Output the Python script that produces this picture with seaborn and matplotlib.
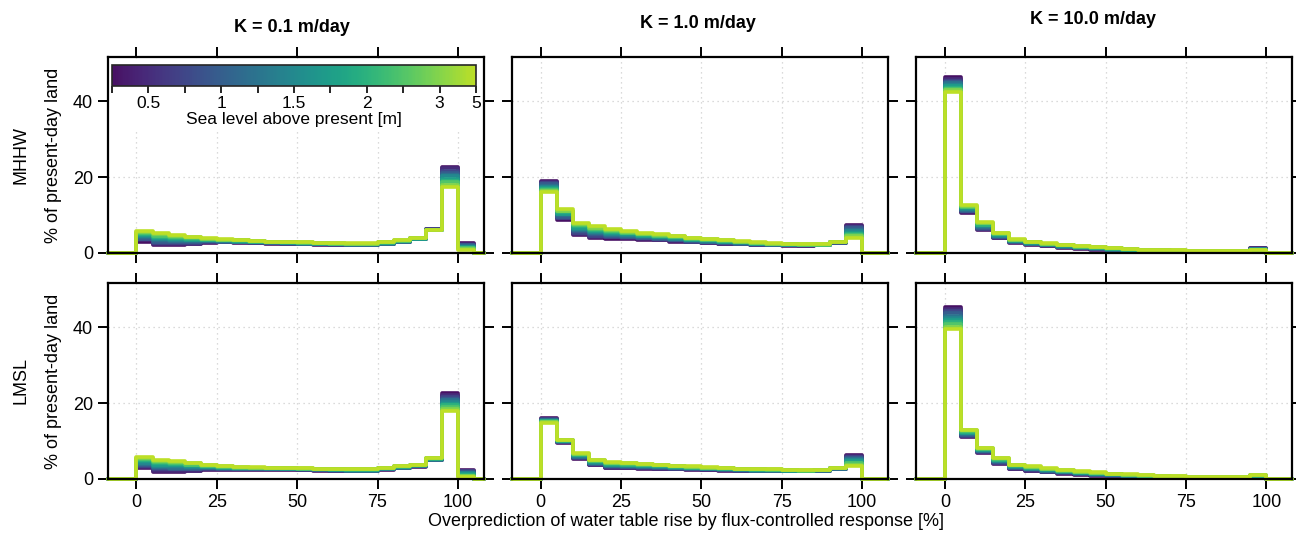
import matplotlib

matplotlib.use("Agg")
import matplotlib.pyplot as plt
import numpy as np
import pandas as pd
import seaborn as sns
from matplotlib.colors import ListedColormap, Normalize
from matplotlib.patches import Rectangle

sns.set_style("ticks")
plt.rcParams["font.family"] = ["Liberation Sans", "DejaVu Sans"]
plt.rcParams["text.color"] = "black"
plt.rcParams["axes.labelcolor"] = "black"
plt.rcParams["xtick.color"] = "black"
plt.rcParams["ytick.color"] = "black"

# sea level scenarios (colour index 0..10)
SEA_LEVELS = [0.25, 0.5, 0.75, 1.0, 1.25, 1.5, 1.75, 2.0, 2.5, 3.0, 5.0]
CBAR_LABELS = ["", "0.5", "", "1", "", "1.5", "", "2", "", "3", "5"]
BIN_EDGES = [0, 5, 10, 15, 20, 25, 30, 35, 40, 45, 50, 55, 60, 65, 70, 75, 80, 85, 90, 95, 100, 105]
DATUMS = ["MHHW", "LMSL"]
K_TITLES = ["K = 0.1 m/day", "K = 1.0 m/day", "K = 10.0 m/day"]

# % of present-day land per bin; each inner list = one bin, values for the 11 sea levels
MHHW_K01 = [
    [3.0, 3.3, 3.6, 3.8, 4.1, 4.4, 4.7, 5.0, 5.2, 5.5, 5.8],
    [2.0, 2.3, 2.7, 3.0, 3.3, 3.7, 4.0, 4.3, 4.6, 5.0, 5.3],
    [2.0, 2.3, 2.6, 2.8, 3.1, 3.4, 3.7, 4.0, 4.2, 4.5, 4.8],
    [2.3, 2.5, 2.7, 2.9, 3.1, 3.3, 3.5, 3.7, 3.9, 4.1, 4.3],
    [2.7, 2.8, 2.9, 3.1, 3.2, 3.3, 3.4, 3.5, 3.7, 3.8, 3.9],
    [2.8, 2.9, 3.0, 3.0, 3.1, 3.2, 3.3, 3.4, 3.4, 3.5, 3.6],
    [2.7, 2.8, 2.8, 2.9, 3.0, 3.0, 3.1, 3.2, 3.3, 3.3, 3.4],
    [2.6, 2.7, 2.7, 2.8, 2.8, 2.9, 3.0, 3.0, 3.1, 3.1, 3.2],
    [2.5, 2.6, 2.6, 2.7, 2.7, 2.8, 2.8, 2.9, 2.9, 3.0, 3.0],
    [2.4, 2.5, 2.5, 2.6, 2.6, 2.7, 2.7, 2.8, 2.8, 2.9, 2.9],
    [2.3, 2.4, 2.4, 2.5, 2.5, 2.6, 2.6, 2.7, 2.7, 2.8, 2.8],
    [2.2, 2.3, 2.3, 2.4, 2.4, 2.5, 2.5, 2.6, 2.6, 2.7, 2.7],
    [2.1, 2.2, 2.2, 2.3, 2.3, 2.4, 2.4, 2.5, 2.5, 2.6, 2.6],
    [2.0, 2.1, 2.1, 2.2, 2.2, 2.3, 2.4, 2.4, 2.5, 2.5, 2.6],
    [2.0, 2.1, 2.1, 2.2, 2.2, 2.3, 2.4, 2.4, 2.5, 2.5, 2.6],
    [2.3, 2.4, 2.4, 2.5, 2.5, 2.6, 2.7, 2.7, 2.8, 2.8, 2.9],
    [2.8, 2.9, 2.9, 3.0, 3.0, 3.1, 3.1, 3.2, 3.2, 3.3, 3.3],
    [3.6, 3.6, 3.7, 3.7, 3.8, 3.8, 3.8, 3.9, 3.9, 4.0, 4.0],
    [6.2, 6.2, 6.2, 6.1, 6.1, 6.1, 6.1, 6.1, 6.0, 6.0, 6.0],
    [22.8, 22.3, 21.7, 21.2, 20.7, 20.2, 19.6, 19.1, 18.6, 18.0, 17.5],
    [2.6, 2.4, 2.2, 2.1, 1.9, 1.7, 1.5, 1.3, 1.2, 1.0, 0.8],
]
MHHW_K1 = [
    [19.0, 18.7, 18.4, 18.1, 17.8, 17.5, 17.2, 16.9, 16.6, 16.3, 16.0],
    [8.8, 9.1, 9.3, 9.6, 9.9, 10.2, 10.4, 10.7, 11.0, 11.2, 11.5],
    [4.8, 5.1, 5.4, 5.8, 6.1, 6.4, 6.7, 7.0, 7.4, 7.7, 8.0],
    [4.0, 4.3, 4.6, 4.9, 5.2, 5.5, 5.8, 6.1, 6.4, 6.7, 7.0],
    [3.8, 4.1, 4.3, 4.6, 4.8, 5.1, 5.4, 5.6, 5.9, 6.1, 6.4],
    [3.7, 3.9, 4.1, 4.3, 4.5, 4.8, 5.0, 5.2, 5.4, 5.6, 5.8],
    [3.5, 3.7, 3.9, 4.0, 4.2, 4.4, 4.6, 4.8, 4.9, 5.1, 5.3],
    [3.3, 3.5, 3.6, 3.8, 3.9, 4.1, 4.3, 4.4, 4.6, 4.7, 4.9],
    [3.0, 3.2, 3.3, 3.5, 3.6, 3.8, 3.9, 4.1, 4.2, 4.4, 4.5],
    [2.8, 2.9, 3.0, 3.2, 3.3, 3.4, 3.5, 3.6, 3.8, 3.9, 4.0],
    [2.6, 2.7, 2.8, 2.9, 3.0, 3.2, 3.3, 3.4, 3.5, 3.6, 3.7],
    [2.4, 2.5, 2.6, 2.7, 2.8, 2.9, 3.0, 3.1, 3.2, 3.3, 3.4],
    [2.3, 2.4, 2.5, 2.5, 2.6, 2.7, 2.8, 2.9, 2.9, 3.0, 3.1],
    [2.1, 2.2, 2.2, 2.3, 2.4, 2.5, 2.5, 2.6, 2.7, 2.7, 2.8],
    [2.0, 2.1, 2.1, 2.2, 2.2, 2.3, 2.4, 2.4, 2.5, 2.5, 2.6],
    [1.9, 2.0, 2.0, 2.1, 2.1, 2.2, 2.2, 2.3, 2.3, 2.4, 2.4],
    [1.9, 1.9, 2.0, 2.0, 2.1, 2.1, 2.1, 2.2, 2.2, 2.3, 2.3],
    [2.0, 2.0, 2.1, 2.1, 2.1, 2.2, 2.2, 2.2, 2.2, 2.3, 2.3],
    [2.6, 2.6, 2.7, 2.7, 2.8, 2.8, 2.8, 2.9, 2.9, 3.0, 3.0],
    [7.5, 7.2, 6.8, 6.5, 6.1, 5.8, 5.4, 5.1, 4.7, 4.4, 4.0],
    [0.0, 0.0, 0.0, 0.0, 0.0, 0.0, 0.0, 0.0, 0.0, 0.0, 0.0],
]
MHHW_K10 = [
    [46.3, 45.9, 45.5, 45.2, 44.8, 44.4, 44.0, 43.6, 43.3, 42.9, 42.5],
    [10.6, 10.8, 11.0, 11.2, 11.4, 11.6, 11.8, 12.0, 12.2, 12.4, 12.6],
    [6.0, 6.2, 6.4, 6.7, 6.9, 7.1, 7.3, 7.5, 7.8, 8.0, 8.2],
    [3.9, 4.0, 4.2, 4.3, 4.5, 4.6, 4.7, 4.9, 5.0, 5.2, 5.3],
    [2.7, 2.8, 2.9, 3.0, 3.1, 3.2, 3.2, 3.3, 3.4, 3.5, 3.6],
    [2.2, 2.3, 2.4, 2.4, 2.5, 2.6, 2.7, 2.8, 2.8, 2.9, 3.0],
    [1.8, 1.9, 2.0, 2.0, 2.1, 2.2, 2.3, 2.4, 2.4, 2.5, 2.6],
    [1.4, 1.5, 1.6, 1.6, 1.7, 1.8, 1.9, 2.0, 2.0, 2.1, 2.2],
    [1.1, 1.2, 1.3, 1.3, 1.4, 1.5, 1.6, 1.7, 1.7, 1.8, 1.9],
    [0.9, 1.0, 1.0, 1.1, 1.2, 1.3, 1.3, 1.4, 1.5, 1.5, 1.6],
    [0.7, 0.8, 0.8, 0.9, 0.9, 1.0, 1.1, 1.1, 1.2, 1.2, 1.3],
    [0.6, 0.7, 0.7, 0.8, 0.8, 0.9, 0.9, 0.9, 1.0, 1.0, 1.1],
    [0.5, 0.5, 0.6, 0.6, 0.7, 0.7, 0.7, 0.8, 0.8, 0.9, 0.9],
    [0.4, 0.4, 0.5, 0.5, 0.6, 0.6, 0.6, 0.7, 0.7, 0.8, 0.8],
    [0.4, 0.4, 0.5, 0.5, 0.5, 0.6, 0.6, 0.6, 0.6, 0.7, 0.7],
    [0.3, 0.3, 0.4, 0.4, 0.4, 0.5, 0.5, 0.5, 0.5, 0.6, 0.6],
    [0.3, 0.3, 0.3, 0.4, 0.4, 0.4, 0.4, 0.4, 0.5, 0.5, 0.5],
    [0.3, 0.3, 0.3, 0.4, 0.4, 0.4, 0.4, 0.4, 0.5, 0.5, 0.5],
    [0.4, 0.4, 0.4, 0.5, 0.5, 0.5, 0.5, 0.5, 0.6, 0.6, 0.6],
    [1.2, 1.2, 1.1, 1.1, 1.0, 1.0, 0.9, 0.9, 0.8, 0.8, 0.7],
    [0.0, 0.0, 0.0, 0.0, 0.0, 0.0, 0.0, 0.0, 0.0, 0.0, 0.0],
]
LMSL_K01 = [
    [2.8, 3.1, 3.4, 3.7, 4.0, 4.3, 4.6, 4.9, 5.2, 5.5, 5.8],
    [1.9, 2.2, 2.5, 2.8, 3.1, 3.5, 3.8, 4.1, 4.4, 4.7, 5.0],
    [1.9, 2.2, 2.5, 2.7, 3.0, 3.3, 3.6, 3.9, 4.1, 4.4, 4.7],
    [2.0, 2.2, 2.5, 2.7, 2.9, 3.2, 3.4, 3.6, 3.8, 4.1, 4.3],
    [2.3, 2.5, 2.6, 2.8, 2.9, 3.1, 3.2, 3.4, 3.5, 3.7, 3.8],
    [2.4, 2.5, 2.6, 2.7, 2.8, 2.9, 3.0, 3.1, 3.2, 3.3, 3.4],
    [2.4, 2.5, 2.6, 2.6, 2.7, 2.8, 2.9, 3.0, 3.0, 3.1, 3.2],
    [2.4, 2.5, 2.5, 2.6, 2.7, 2.8, 2.8, 2.9, 3.0, 3.0, 3.1],
    [2.4, 2.5, 2.5, 2.6, 2.6, 2.7, 2.8, 2.8, 2.9, 2.9, 3.0],
    [2.4, 2.5, 2.5, 2.6, 2.6, 2.7, 2.7, 2.8, 2.8, 2.9, 2.9],
    [2.3, 2.4, 2.4, 2.5, 2.5, 2.6, 2.6, 2.7, 2.7, 2.8, 2.8],
    [2.2, 2.3, 2.3, 2.4, 2.4, 2.5, 2.5, 2.6, 2.6, 2.7, 2.7],
    [2.1, 2.2, 2.2, 2.3, 2.3, 2.4, 2.4, 2.5, 2.5, 2.6, 2.6],
    [2.0, 2.1, 2.1, 2.2, 2.2, 2.3, 2.4, 2.4, 2.5, 2.5, 2.6],
    [2.0, 2.1, 2.1, 2.2, 2.2, 2.3, 2.4, 2.4, 2.5, 2.5, 2.6],
    [2.4, 2.5, 2.5, 2.6, 2.6, 2.7, 2.8, 2.8, 2.9, 2.9, 3.0],
    [2.8, 2.9, 2.9, 3.0, 3.0, 3.1, 3.2, 3.2, 3.3, 3.3, 3.4],
    [3.2, 3.3, 3.3, 3.4, 3.4, 3.5, 3.6, 3.6, 3.7, 3.7, 3.8],
    [4.9, 5.0, 5.0, 5.1, 5.1, 5.2, 5.3, 5.3, 5.4, 5.4, 5.5],
    [22.6, 22.1, 21.7, 21.2, 20.8, 20.3, 19.8, 19.4, 18.9, 18.5, 18.0],
    [2.3, 2.1, 2.0, 1.8, 1.6, 1.5, 1.3, 1.1, 0.9, 0.8, 0.6],
]
LMSL_K1 = [
    [16.0, 15.9, 15.8, 15.6, 15.5, 15.4, 15.3, 15.2, 15.0, 14.9, 14.8],
    [9.6, 9.7, 9.7, 9.8, 9.9, 10.0, 10.0, 10.1, 10.2, 10.2, 10.3],
    [5.2, 5.4, 5.5, 5.7, 5.8, 6.0, 6.2, 6.3, 6.5, 6.6, 6.8],
    [3.6, 3.7, 3.9, 4.0, 4.2, 4.3, 4.4, 4.6, 4.7, 4.9, 5.0],
    [2.8, 3.0, 3.1, 3.3, 3.5, 3.7, 3.8, 4.0, 4.2, 4.3, 4.5],
    [2.8, 2.9, 3.1, 3.2, 3.4, 3.5, 3.6, 3.8, 3.9, 4.1, 4.2],
    [2.7, 2.8, 3.0, 3.1, 3.2, 3.4, 3.5, 3.6, 3.7, 3.9, 4.0],
    [2.6, 2.7, 2.8, 3.0, 3.1, 3.2, 3.3, 3.4, 3.6, 3.7, 3.8],
    [2.5, 2.6, 2.7, 2.8, 2.9, 3.0, 3.1, 3.2, 3.3, 3.4, 3.5],
    [2.4, 2.5, 2.6, 2.7, 2.8, 2.9, 2.9, 3.0, 3.1, 3.2, 3.3],
    [2.3, 2.4, 2.5, 2.5, 2.6, 2.7, 2.8, 2.9, 2.9, 3.0, 3.1],
    [2.2, 2.3, 2.3, 2.4, 2.5, 2.6, 2.6, 2.7, 2.8, 2.8, 2.9],
    [2.1, 2.2, 2.2, 2.3, 2.3, 2.4, 2.5, 2.5, 2.6, 2.6, 2.7],
    [2.0, 2.1, 2.1, 2.2, 2.2, 2.3, 2.4, 2.4, 2.5, 2.5, 2.6],
    [2.0, 2.1, 2.1, 2.2, 2.2, 2.3, 2.3, 2.4, 2.4, 2.5, 2.5],
    [2.0, 2.0, 2.1, 2.1, 2.2, 2.2, 2.2, 2.3, 2.3, 2.4, 2.4],
    [2.0, 2.0, 2.1, 2.1, 2.1, 2.2, 2.2, 2.2, 2.2, 2.3, 2.3],
    [2.1, 2.1, 2.2, 2.2, 2.2, 2.3, 2.3, 2.3, 2.3, 2.4, 2.4],
    [2.5, 2.6, 2.6, 2.7, 2.7, 2.8, 2.8, 2.9, 2.9, 3.0, 3.0],
    [6.3, 6.0, 5.7, 5.5, 5.2, 4.9, 4.6, 4.3, 4.1, 3.8, 3.5],
    [0.0, 0.0, 0.0, 0.0, 0.0, 0.0, 0.0, 0.0, 0.0, 0.0, 0.0],
]
LMSL_K10 = [
    [45.4, 44.8, 44.2, 43.7, 43.1, 42.5, 41.9, 41.3, 40.8, 40.2, 39.6],
    [11.0, 11.2, 11.4, 11.6, 11.8, 12.0, 12.2, 12.4, 12.6, 12.8, 13.0],
    [6.9, 7.0, 7.2, 7.3, 7.4, 7.6, 7.7, 7.8, 7.9, 8.1, 8.2],
    [3.9, 4.1, 4.2, 4.4, 4.6, 4.8, 4.9, 5.1, 5.3, 5.4, 5.6],
    [2.6, 2.7, 2.8, 3.0, 3.1, 3.2, 3.3, 3.4, 3.6, 3.7, 3.8],
    [2.1, 2.2, 2.3, 2.5, 2.6, 2.7, 2.8, 2.9, 3.1, 3.2, 3.3],
    [1.7, 1.8, 1.9, 2.0, 2.1, 2.3, 2.4, 2.5, 2.6, 2.7, 2.8],
    [1.4, 1.5, 1.6, 1.7, 1.8, 1.9, 2.0, 2.1, 2.2, 2.3, 2.4],
    [1.1, 1.2, 1.3, 1.4, 1.5, 1.6, 1.6, 1.7, 1.8, 1.9, 2.0],
    [0.9, 1.0, 1.1, 1.1, 1.2, 1.3, 1.4, 1.5, 1.5, 1.6, 1.7],
    [0.8, 0.9, 0.9, 1.0, 1.0, 1.1, 1.2, 1.2, 1.3, 1.3, 1.4],
    [0.6, 0.7, 0.7, 0.8, 0.8, 0.9, 1.0, 1.0, 1.1, 1.1, 1.2],
    [0.5, 0.6, 0.6, 0.7, 0.7, 0.8, 0.8, 0.9, 0.9, 1.0, 1.0],
    [0.4, 0.4, 0.5, 0.5, 0.6, 0.6, 0.6, 0.7, 0.7, 0.8, 0.8],
    [0.4, 0.4, 0.5, 0.5, 0.5, 0.6, 0.6, 0.6, 0.6, 0.7, 0.7],
    [0.3, 0.3, 0.4, 0.4, 0.4, 0.5, 0.5, 0.5, 0.5, 0.6, 0.6],
    [0.3, 0.3, 0.3, 0.4, 0.4, 0.4, 0.4, 0.4, 0.5, 0.5, 0.5],
    [0.3, 0.3, 0.3, 0.4, 0.4, 0.4, 0.4, 0.4, 0.5, 0.5, 0.5],
    [0.4, 0.4, 0.4, 0.5, 0.5, 0.5, 0.5, 0.5, 0.6, 0.6, 0.6],
    [0.8, 0.8, 0.8, 0.9, 0.9, 0.9, 0.9, 0.9, 1.0, 1.0, 1.0],
    [0.0, 0.0, 0.0, 0.0, 0.0, 0.0, 0.0, 0.0, 0.0, 0.0, 0.0],
]

PANELS = [[MHHW_K01, MHHW_K1, MHHW_K10], [LMSL_K01, LMSL_K1, LMSL_K10]]

XLIM = (-9, 108)
YLIM = (0, 51.7)

# viridis, stopping short of the brightest yellow like the original figure
CMAP = ListedColormap(plt.cm.viridis(np.linspace(0.04, 0.9, 256)))
LEVEL_COLOURS = {i: CMAP(i / (len(SEA_LEVELS) - 1)) for i in range(len(SEA_LEVELS))}


def panel_frame(table):
    # one stepped line per sea level, padded with zeros out to the axis limits
    values = np.array(table).T
    rows = []
    for level, series in enumerate(values):
        xs = [XLIM[0]] + BIN_EDGES + [XLIM[1]]
        ys = [0.0] + list(series) + [0.0, 0.0]
        for x, y in zip(xs, ys):
            rows.append({"x": x, "y": y, "level": level})
    return pd.DataFrame(rows)


fig, axes = plt.subplots(2, 3, figsize=(12.96, 5.43), dpi=100)
fig.subplots_adjust(left=0.083, right=0.997, top=0.895, bottom=0.118, wspace=0.075, hspace=0.153)

for r in range(2):
    for c in range(3):
        ax = axes[r, c]
        ax.grid(True, linestyle=(0, (1, 3)), color="#cfcfcf", linewidth=0.9)
        sns.lineplot(
            data=panel_frame(PANELS[r][c]), x="x", y="y", hue="level",
            palette=LEVEL_COLOURS, estimator=None, sort=False,
            drawstyle="steps-post", linewidth=2.6, legend=False, clip_on=False, ax=ax,
        )
        ax.set_xlim(*XLIM)
        ax.set_ylim(*YLIM)
        ax.set_xticks([0, 25, 50, 75, 100])
        ax.set_yticks([0, 20, 40])
        ax.tick_params(direction="out", length=7, width=1.4, top=True, right=True, labelsize=13)
        for spine in ax.spines.values():
            spine.set_linewidth(1.6)
            spine.set_color("black")
        ax.set_xlabel("")
        ax.set_ylabel("")
        if r == 0:
            ax.set_xticklabels([])
        if c > 0:
            ax.set_yticklabels([])

# white box behind the colour bar
axes[0, 0].add_patch(Rectangle((0.005, 0.62), 0.99, 0.37, transform=axes[0, 0].transAxes,
                               facecolor="white", edgecolor="none", zorder=2.5))

cax = fig.add_axes([0.0864, 0.8416, 0.2809, 0.0387])
sm = plt.cm.ScalarMappable(norm=Normalize(0, 10), cmap=CMAP)
cb = fig.colorbar(sm, cax=cax, orientation="horizontal")
cb.set_ticks(range(len(SEA_LEVELS)))
cb.set_ticklabels(CBAR_LABELS)
cb.ax.tick_params(direction="out", length=5, width=1.2, labelsize=12.5, pad=2)
cb.outline.set_linewidth(1.2)
cb.set_label("Sea level above present [m]", fontsize=12.5, labelpad=1)

title_pos = [(292, 28), (698, 24), (1093, 19)]
for title, (px, py) in zip(K_TITLES, title_pos):
    fig.text(px / 1296, 1 - py / 543, title, ha="center", va="center", fontsize=13, fontweight="bold")

row_centres = [155, 381]
for datum, py in zip(DATUMS, row_centres):
    fig.text(21 / 1296, 1 - py / 543, datum, ha="center", va="center", rotation=90, fontsize=13)
    fig.text(54 / 1296, 1 - py / 543, "% of present-day land", ha="center", va="center",
             rotation=90, fontsize=13)

fig.text(686 / 1296, 1 - 522 / 543, "Overprediction of water table rise by flux-controlled response [%]",
         ha="center", va="center", fontsize=13)

fig.savefig("out.png", dpi=100)
